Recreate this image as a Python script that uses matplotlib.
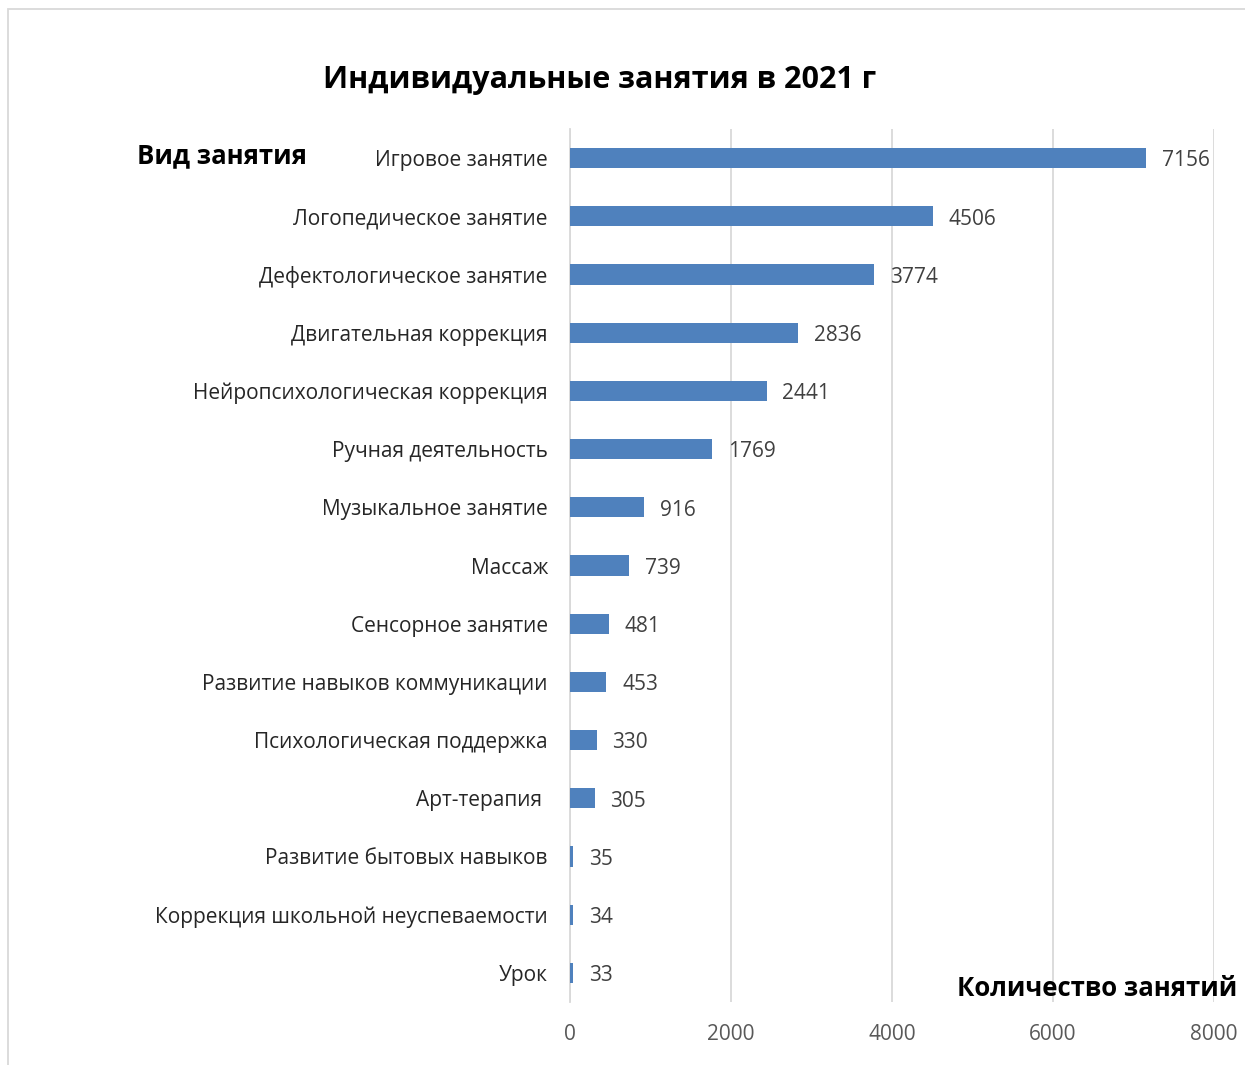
import matplotlib
matplotlib.use("Agg")
from matplotlib import pyplot as plt
from matplotlib import patches

plt.rcParams['font.family'] = ['Open Sans', 'DejaVu Sans']

# данные
vidy = [
    "Игровое занятие",
    "Логопедическое занятие",
    "Дефектологическое занятие",
    "Двигательная коррекция",
    "Нейропсихологическая коррекция",
    "Ручная деятельность",
    "Музыкальное занятие",
    "Массаж",
    "Сенсорное занятие",
    "Развитие навыков коммуникации",
    "Психологическая поддержка",
    "Арт-терапия ",
    "Развитие бытовых навыков",
    "Коррекция школьной неуспеваемости",
    "Урок",
]
kolichestvo = [7156, 4506, 3774, 2836, 2441, 1769, 916, 739, 481, 453, 330, 305, 35, 34, 33]
x_ticks = [0, 2000, 4000, 6000, 8000]

cor_barra = '#4F81BD'
cinza = '#404040'

fig = plt.figure(figsize=(12.45, 10.65), dpi=100)
ax = fig.add_axes([570/1245, 1 - 1002/1065, 644/1245, 873/1065])

pos = list(range(len(vidy)))
ax.barh(pos, kolichestvo, height=0.35, color=cor_barra, zorder=3)
ax.set_ylim(len(vidy) - 0.5, -0.5)
ax.set_xlim(0, 8000)
ax.set_xticks(x_ticks)
ax.set_xticklabels([str(v) for v in x_ticks], fontsize=15, color='#595959')
ax.set_yticks(pos)
ax.set_yticklabels(vidy, fontsize=15, color='#262626')
ax.tick_params(axis='x', length=0, pad=16)
ax.tick_params(axis='y', length=0, pad=16)
ax.grid(axis='x', color='#D9D9D9', linewidth=1.3, zorder=0)
for s in ['top', 'right', 'bottom']:
    ax.spines[s].set_visible(False)
ax.spines['left'].set_color('#D9D9D9')
ax.spines['left'].set_linewidth(1.3)

for p, v in zip(pos, kolichestvo):
    ax.annotate(str(v), (v, p), xytext=(11.5, -2), textcoords='offset points',
                ha='left', va='center', fontsize=15, color=cinza, zorder=4)

fig.text(600/1245, 1 - 80/1065, "Индивидуальные занятия в 2021 г", ha='center', va='center',
         fontsize=22, fontweight='bold', color='black')
fig.text(137/1245, 1 - 156/1065, "Вид занятия", ha='left', va='center',
         fontsize=18.5, fontweight='bold', color='black')
fig.text(1237/1245, 1 - 988/1065, "Количество занятий", ha='right', va='center',
         fontsize=18.5, fontweight='bold', color='black')

# рамка
fig.patches.append(patches.Rectangle((8/1245, -0.1), 1.2, 1 - 9/1065 + 0.1, transform=fig.transFigure,
                                     fill=False, edgecolor='#D9D9D9', linewidth=1.3))

fig.savefig('out.png', dpi=100)
